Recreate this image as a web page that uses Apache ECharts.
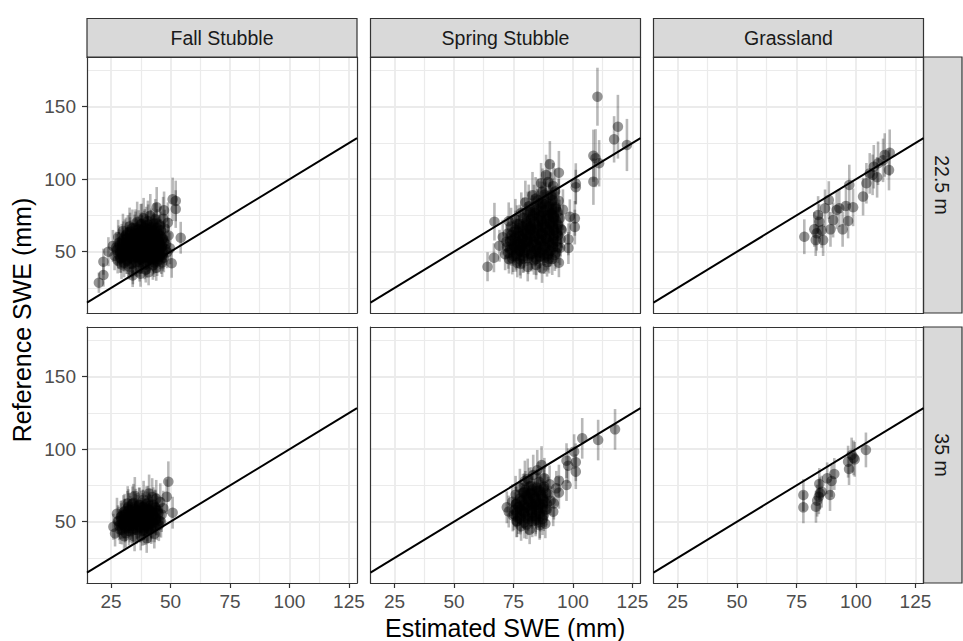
<!DOCTYPE html>
<html>
<head>
<meta charset="utf-8">
<title>Estimated vs Reference SWE</title>
<script src="https://cdn.jsdelivr.net/npm/echarts@6/dist/echarts.min.js"></script>
<style>
  html, body { margin: 0; padding: 0; background: #ffffff; }
  #chart { width: 963px; height: 641px; }
</style>
</head>
<body>
<div id="chart"></div>
<script>
// Facet labels
const landCovers = ['Fall Stubble', 'Spring Stubble', 'Grassland'];
const resolutions = ['22.5 m', '35 m'];

// Axis settings
const xRange = [14.9, 128.4];
const yRange = [7.7, 184.3];
const xTicks = [25, 50, 75, 100, 125];
const xMinorTicks = [37.5, 62.5, 87.5, 112.5];
const yTicks = [50, 100, 150];
const yMinorTicks = [25, 75, 125, 175];

// Observations: [estimated SWE, reference SWE, reference uncertainty (±)]
const fallStubble22 = [
  [19.9, 28.6, 7], [21.8, 33.9, 8], [21.8, 43.1, 9], [23.9, 50.0, 10], [50.9, 86.1, 15], [52.2, 85.0, 14],
  [52.2, 79.4, 13], [54.3, 59.6, 11], [50.5, 42.0, 10], [44.2, 80.6, 14], [47.3, 78.5, 13],
  [26.5, 47.2, 10], [27.1, 52.8, 11], [27.8, 44.0, 9], [28.3, 56.1, 12], [28.9, 49.5, 10], [29.4, 41.2, 10],
  [29.9, 53.7, 11], [30.2, 58.9, 12], [30.6, 46.3, 10], [31.0, 50.8, 11], [31.3, 61.5, 12], [31.7, 43.5, 9],
  [32.0, 55.2, 11], [32.4, 39.8, 9], [32.7, 48.1, 10], [33.0, 63.9, 13], [33.2, 52.4, 11], [33.6, 57.7, 12],
  [33.9, 45.0, 10], [34.2, 36.5, 9], [34.5, 60.3, 12], [34.8, 50.1, 11], [35.0, 54.6, 11], [35.3, 66.2, 13],
  [35.6, 42.7, 10], [35.9, 58.4, 12], [36.2, 47.9, 10], [36.4, 62.8, 12], [36.7, 52.0, 11], [37.0, 38.4, 9],
  [37.2, 56.5, 12], [37.5, 68.9, 14], [37.8, 44.6, 10], [38.0, 60.7, 12], [38.3, 50.2, 11], [38.6, 54.9, 11],
  [38.9, 65.3, 13], [39.1, 41.0, 10], [39.4, 57.8, 12], [39.7, 47.4, 10], [40.0, 62.1, 12], [40.3, 52.6, 11],
  [40.5, 71.2, 14], [40.8, 35.8, 9], [41.1, 55.7, 11], [41.4, 45.5, 10], [41.7, 59.9, 12], [42.0, 66.8, 13],
  [42.3, 50.3, 11], [42.6, 40.6, 10], [42.9, 63.4, 13], [43.2, 54.0, 11], [43.5, 47.1, 10], [43.8, 58.2, 12],
  [44.1, 69.5, 14], [44.4, 43.2, 10], [44.7, 61.6, 12], [45.0, 51.9, 11], [45.3, 56.4, 12], [45.7, 48.0, 10],
  [46.0, 64.7, 13], [46.4, 53.3, 11], [46.8, 59.1, 12], [47.2, 45.8, 10], [47.6, 66.0, 13], [48.1, 55.1, 11],
  [48.6, 49.6, 11], [49.2, 61.2, 12], [36.0, 70.5, 14], [38.7, 73.1, 14], [41.5, 74.8, 15], [43.6, 72.3, 14],
  [39.6, 37.7, 9], [44.0, 38.9, 9], [46.5, 42.5, 10], [30.0, 64.2, 12], [32.8, 67.4, 13], [28.0, 60.0, 12],
  [34.1, 33.6, 8], [37.4, 34.8, 9], [40.2, 43.9, 10], [35.1, 49.0, 10], [42.5, 57.4, 12], [37.9, 63.3, 12],
  [33.5, 48.6, 10], [31.5, 57.0, 11], [45.6, 68.2, 13], [48.9, 70.0, 14], [39.8, 68.0, 13], [36.8, 45.2, 10],
  [41.9, 48.8, 11], [43.0, 44.4, 10], [29.2, 45.5, 10], [25.8, 54.0, 11], [46.9, 72.8, 15], [49.8, 52.3, 11],
  [30.5, 42.3, 10], [33.8, 41.6, 10], [36.9, 42.8, 10], [39.9, 41.9, 10], [43.1, 42.5, 10],
  [28.9, 45.4, 10], [31.6, 44.7, 10], [34.7, 45.8, 11], [37.6, 44.9, 10], [40.8, 45.6, 11], [44.0, 45.2, 10], [46.1, 44.6, 10],
  [28.1, 48.3, 10], [30.9, 47.6, 10], [33.2, 48.9, 11], [35.8, 47.5, 11], [38.4, 48.4, 11], [41.2, 47.7, 11], [43.9, 48.6, 11], [46.7, 47.9, 11],
  [27.4, 51.2, 11], [29.8, 50.6, 11], [32.5, 51.5, 11], [34.9, 50.8, 11], [37.3, 51.6, 11], [39.8, 50.7, 11], [42.4, 51.4, 11], [45.1, 50.9, 11], [47.9, 51.7, 11],
  [28.6, 54.3, 11], [31.1, 53.6, 11], [33.7, 54.4, 11], [36.2, 53.7, 11], [38.8, 54.5, 12], [41.3, 53.8, 11], [43.8, 54.6, 12], [46.4, 53.9, 11],
  [29.5, 57.2, 12], [32.2, 56.6, 12], [34.6, 57.4, 12], [37.1, 56.8, 12], [39.7, 57.5, 12], [42.2, 56.7, 12], [44.9, 57.3, 12], [47.3, 56.6, 12],
  [30.8, 60.3, 12], [33.3, 59.6, 12], [35.7, 60.5, 12], [38.3, 59.8, 12], [40.9, 60.4, 12], [43.4, 59.7, 12], [45.8, 60.6, 12],
  [32.1, 63.2, 12], [34.9, 62.6, 13], [37.4, 63.5, 13], [39.9, 62.7, 13], [42.6, 63.3, 13], [45.2, 62.5, 13],
  [34.0, 66.1, 13], [36.6, 65.6, 13], [39.2, 66.4, 13], [41.8, 65.7, 13], [44.4, 66.3, 13],
  [37.9, 69.2, 14], [40.6, 68.6, 14], [43.1, 69.4, 14],
  [30.2, 46.7, 10], [32.9, 46.2, 10], [35.3, 46.9, 10], [38.0, 46.3, 10], [40.6, 46.8, 11], [43.2, 46.1, 11], [45.4, 46.6, 11],
  [29.0, 49.7, 11], [31.7, 49.2, 11], [34.3, 49.8, 11], [36.6, 49.3, 11], [39.1, 49.9, 11], [41.8, 49.4, 11], [44.5, 49.8, 11], [47.0, 49.2, 11],
  [28.2, 52.7, 11], [30.6, 52.2, 11], [33.1, 52.9, 11], [35.6, 52.3, 11], [38.1, 52.8, 11], [40.7, 52.2, 11], [43.1, 52.9, 11], [45.7, 52.4, 11],
  [29.9, 55.7, 11], [32.4, 55.2, 12], [35.0, 55.8, 12], [37.6, 55.3, 12], [40.1, 55.9, 12], [42.7, 55.2, 12], [45.3, 55.6, 12],
  [31.5, 58.7, 12], [34.0, 58.2, 12], [36.6, 58.8, 12], [39.1, 58.3, 12], [41.7, 58.9, 12], [44.2, 58.2, 12], [46.6, 58.6, 12],
  [33.0, 61.7, 12], [35.6, 61.2, 12], [38.2, 61.8, 13], [40.6, 61.3, 13], [43.3, 61.9, 13],
  [35.3, 64.7, 13], [37.9, 64.2, 13], [40.5, 64.8, 13], [43.1, 64.3, 13]
];

const springStubble22 = [
  [110.3, 156.9, 20], [118.9, 136.2, 22], [117.3, 127.5, 16], [122.7, 123.6, 18], [108.6, 116.2, 18],
  [109.5, 114.5, 20], [111.0, 111.0, 16], [108.6, 98.3, 16], [101.2, 97.0, 14], [101.2, 94.5, 12],
  [100.8, 73.0, 12], [100.8, 67.0, 12], [98.1, 58.5, 11], [98.1, 52.5, 11], [94.1, 42.4, 10],
  [64.1, 39.6, 10], [66.8, 45.8, 10], [67.0, 70.7, 13], [69.1, 54.1, 11], [90.3, 110.3, 16],
  [88.7, 102.9, 14], [94.1, 104.5, 15], [86.6, 97.2, 14], [98.7, 74.1, 12],
  [71.5, 48.2, 11], [72.0, 56.8, 12], [72.6, 62.5, 12], [73.1, 44.9, 10], [73.5, 51.7, 11], [74.0, 67.3, 13],
  [74.4, 58.1, 12], [74.9, 47.0, 11], [75.3, 53.9, 11], [75.8, 72.4, 14], [76.2, 61.0, 12], [76.6, 42.3, 10],
  [77.0, 55.5, 12], [77.4, 66.2, 13], [77.9, 49.8, 11], [78.3, 76.9, 14], [78.7, 59.4, 12], [79.1, 45.3, 10],
  [79.5, 63.8, 13], [79.9, 52.6, 11], [80.3, 70.1, 13], [80.7, 57.2, 12], [81.0, 39.5, 10], [81.4, 81.3, 15],
  [81.8, 61.9, 12], [82.1, 48.4, 11], [82.5, 67.8, 13], [82.9, 55.0, 12], [83.2, 74.6, 14], [83.6, 44.1, 10],
  [84.0, 60.3, 12], [84.3, 86.5, 15], [84.7, 51.2, 11], [85.0, 65.4, 13], [85.4, 78.2, 14], [85.8, 57.9, 12],
  [86.1, 46.6, 11], [86.5, 71.7, 13], [86.9, 62.8, 12], [87.2, 91.4, 16], [87.6, 53.5, 11], [88.0, 68.9, 13],
  [88.3, 82.7, 15], [88.7, 59.1, 12], [89.1, 42.8, 10], [89.4, 75.5, 14], [89.8, 64.6, 13], [90.2, 50.4, 11],
  [90.5, 88.9, 16], [90.9, 56.3, 12], [91.3, 70.8, 13], [91.7, 95.2, 16], [92.0, 61.4, 12], [92.4, 47.7, 11],
  [92.8, 79.6, 14], [93.2, 66.0, 13], [93.6, 53.0, 11], [94.0, 85.1, 15], [94.4, 72.9, 13], [94.8, 58.7, 12],
  [95.3, 64.9, 12], [80.0, 84.0, 15], [82.0, 77.5, 14], [76.5, 69.0, 13], [78.0, 41.5, 10], [84.5, 40.8, 10],
  [87.0, 38.5, 10], [90.0, 45.0, 10], [86.0, 83.5, 15], [83.0, 89.0, 16], [75.0, 63.5, 12], [73.0, 71.0, 13],
  [88.0, 48.0, 11], [91.0, 76.0, 14], [79.0, 55.0, 11], [81.5, 66.0, 13], [85.5, 49.5, 11], [77.5, 51.0, 11],
  [92.5, 91.5, 16], [89.5, 98.0, 16], [95.8, 79.0, 14], [70.5, 60.0, 12],
  [74.5, 45.3, 11], [77.8, 44.6, 11], [81.2, 45.5, 11], [84.6, 44.8, 11], [88.0, 45.6, 11], [91.3, 44.9, 11],
  [72.8, 49.2, 11], [76.1, 48.7, 11], [79.5, 49.4, 11], [82.8, 48.8, 11], [86.2, 49.5, 11], [89.6, 48.6, 11], [92.9, 49.3, 11],
  [72.3, 53.4, 12], [75.4, 52.6, 12], [78.6, 53.3, 12], [81.9, 52.7, 12], [85.1, 53.5, 12], [88.4, 52.8, 12], [91.7, 53.4, 12], [94.6, 52.7, 12],
  [73.6, 57.3, 12], [76.8, 56.6, 12], [80.0, 57.4, 12], [83.3, 56.7, 12], [86.6, 57.5, 12], [89.8, 56.8, 12], [93.1, 57.2, 12],
  [74.2, 61.4, 12], [77.5, 60.7, 12], [80.7, 61.3, 13], [84.0, 60.6, 13], [87.2, 61.5, 13], [90.5, 60.8, 13], [93.8, 61.2, 13],
  [75.9, 65.3, 13], [79.1, 64.6, 13], [82.4, 65.4, 13], [85.6, 64.7, 13], [88.9, 65.5, 13], [92.1, 64.8, 13], [95.0, 65.6, 13],
  [77.6, 69.4, 13], [80.8, 68.7, 13], [84.1, 69.3, 13], [87.3, 68.6, 13], [90.6, 69.5, 13], [93.7, 68.8, 13],
  [79.2, 73.3, 14], [82.5, 72.6, 14], [85.7, 73.4, 14], [89.0, 72.7, 14], [92.2, 73.5, 14],
  [81.0, 77.4, 14], [84.2, 76.7, 14], [87.5, 77.3, 14], [90.7, 76.6, 14], [93.5, 77.5, 14],
  [83.6, 81.2, 15], [86.8, 80.6, 15], [90.1, 81.4, 15], [92.8, 80.7, 15],
  [85.3, 85.4, 15], [88.6, 84.7, 15], [91.5, 85.5, 15],
  [88.0, 89.3, 16], [90.9, 88.6, 16],
  [76.0, 47.2, 11], [79.3, 46.8, 11], [82.6, 47.4, 11], [86.0, 46.9, 11], [89.3, 47.3, 11],
  [74.2, 51.3, 11], [77.4, 50.8, 11], [80.8, 51.2, 11], [84.1, 50.7, 11], [87.4, 51.4, 11], [90.8, 50.9, 11],
  [74.8, 55.2, 12], [78.0, 54.7, 12], [81.3, 55.3, 12], [84.6, 54.8, 12], [87.9, 55.4, 12], [91.2, 54.9, 12],
  [75.6, 59.3, 12], [78.9, 58.8, 12], [82.1, 59.2, 12], [85.4, 58.7, 12], [88.7, 59.4, 12], [92.0, 58.9, 12],
  [76.9, 63.2, 12], [80.1, 62.7, 13], [83.4, 63.3, 13], [86.7, 62.8, 13], [90.0, 63.4, 13], [93.2, 62.9, 13],
  [78.6, 67.3, 13], [81.8, 66.8, 13], [85.1, 67.2, 13], [88.3, 66.7, 13], [91.5, 67.4, 13],
  [80.4, 71.2, 13], [83.6, 70.7, 13], [86.9, 71.3, 14], [90.1, 70.8, 14], [92.9, 71.4, 14],
  [82.9, 75.3, 14], [86.1, 74.8, 14], [89.4, 75.2, 14], [92.0, 74.7, 14],
  [85.0, 79.2, 14], [88.2, 78.7, 15], [91.3, 79.3, 15],
  [87.2, 83.3, 15], [90.2, 82.8, 15]
];

const grassland22 = [
  [78.3, 60.3, 12], [82.5, 65.4, 12], [83.5, 62.7, 12], [83.1, 58.0, 11], [84.1, 75.3, 13], [84.6, 70.7, 12],
  [86.2, 58.0, 11], [85.6, 64.7, 12], [87.0, 79.9, 13], [88.6, 85.6, 13], [89.3, 65.4, 12], [90.4, 71.8, 12],
  [91.9, 78.8, 13], [93.0, 80.0, 13], [94.4, 65.4, 12], [95.8, 81.5, 13], [96.7, 71.2, 12], [97.2, 96.0, 14],
  [98.8, 80.6, 13], [103.0, 88.0, 13], [104.4, 97.2, 14], [105.8, 104.0, 14], [107.5, 108.6, 15],
  [108.9, 101.3, 14], [107.0, 103.0, 14], [109.3, 111.0, 15], [112.1, 116.7, 15], [114.2, 118.3, 16],
  [113.9, 106.3, 14], [111.4, 113.0, 15]
];

const fallStubble35 = [
  [26.0, 46.5, 9], [26.7, 41.9, 9], [49.1, 77.6, 14], [48.4, 67.2, 12], [50.9, 56.2, 11],
  [28.2, 50.3, 10], [28.8, 44.6, 10], [29.5, 53.8, 11], [30.1, 47.9, 10], [30.7, 57.2, 12], [31.2, 42.1, 10],
  [31.8, 51.0, 11], [32.3, 60.4, 12], [32.9, 45.7, 10], [33.4, 54.6, 11], [33.9, 49.3, 11], [34.4, 63.1, 13],
  [34.9, 39.6, 10], [35.4, 52.2, 11], [35.9, 57.8, 12], [36.3, 46.0, 10], [36.8, 61.5, 12], [37.3, 50.6, 11],
  [37.8, 55.3, 11], [38.2, 43.4, 10], [38.7, 65.2, 13], [39.1, 48.7, 11], [39.6, 58.9, 12], [40.0, 53.1, 11],
  [40.5, 62.7, 12], [40.9, 45.2, 10], [41.4, 56.6, 12], [41.8, 50.1, 11], [42.3, 67.0, 13], [42.7, 54.3, 11],
  [43.2, 41.5, 10], [43.6, 60.1, 12], [44.1, 51.8, 11], [44.6, 57.4, 12], [45.1, 47.6, 11], [45.7, 63.5, 13],
  [46.3, 54.9, 12], [47.0, 59.3, 12], [35.0, 67.8, 13], [37.5, 40.2, 10], [33.0, 58.0, 12], [39.5, 44.0, 10],
  [31.0, 55.0, 11], [29.0, 48.0, 10], [42.0, 46.8, 11], [36.0, 53.5, 11], [38.5, 59.7, 12], [41.0, 69.5, 13],
  [44.0, 65.8, 13], [34.0, 44.0, 10], [30.5, 40.0, 10], [27.5, 55.5, 11], [46.0, 50.0, 11], [40.0, 38.5, 10],
  [32.0, 62.5, 12],
  [29.6, 44.3, 10], [32.6, 43.6, 10], [35.7, 44.5, 10], [38.8, 43.8, 10], [41.9, 44.6, 10],
  [28.4, 47.2, 10], [31.3, 46.6, 10], [34.3, 47.4, 11], [37.2, 46.7, 11], [40.2, 47.5, 11], [43.3, 46.8, 11],
  [27.9, 50.3, 11], [30.7, 49.6, 11], [33.6, 50.4, 11], [36.5, 49.7, 11], [39.4, 50.5, 11], [42.4, 49.8, 11], [45.3, 50.6, 11],
  [29.1, 53.2, 11], [32.0, 52.6, 11], [34.9, 53.4, 11], [37.9, 52.7, 11], [40.8, 53.5, 11], [43.8, 52.8, 11],
  [30.2, 56.3, 12], [33.1, 55.6, 12], [36.1, 56.4, 12], [39.0, 55.7, 12], [41.9, 56.5, 12], [44.9, 55.8, 12],
  [31.9, 59.2, 12], [34.8, 58.6, 12], [37.7, 59.4, 12], [40.7, 58.7, 12], [43.6, 59.5, 12],
  [34.0, 62.3, 12], [37.0, 61.6, 12], [39.9, 62.4, 12], [42.8, 61.7, 12],
  [31.0, 45.7, 10], [34.1, 45.2, 10], [37.3, 45.8, 10], [40.4, 45.3, 10],
  [29.8, 48.7, 10], [32.8, 48.2, 11], [35.8, 48.8, 11], [38.7, 48.3, 11], [41.8, 48.9, 11], [44.2, 48.4, 11],
  [29.3, 51.7, 11], [32.2, 51.2, 11], [35.1, 51.8, 11], [38.0, 51.3, 11], [40.9, 51.9, 11], [43.9, 51.4, 11],
  [30.6, 54.7, 11], [33.5, 54.2, 11], [36.4, 54.8, 11], [39.4, 54.3, 12], [42.3, 54.9, 12],
  [32.4, 57.7, 12], [35.3, 57.2, 12], [38.3, 57.8, 12], [41.2, 57.3, 12], [44.0, 57.9, 12],
  [35.4, 60.7, 12], [38.4, 60.2, 12], [41.3, 60.8, 12]
];

const springStubble35 = [
  [117.7, 113.7, 14], [110.6, 106.3, 14], [103.9, 107.5, 14], [100.5, 98.3, 12], [97.3, 92.1, 12],
  [98.0, 88.6, 12], [101.2, 91.0, 13], [101.2, 84.5, 12], [97.3, 75.3, 11], [94.1, 78.3, 11],
  [94.1, 70.0, 11], [91.7, 56.9, 10], [90.6, 64.5, 10], [86.8, 89.1, 13], [72.2, 59.9, 11], [73.0, 57.0, 11],
  [74.5, 63.8, 12], [75.2, 55.1, 11], [75.9, 68.6, 13], [76.5, 50.4, 11], [77.1, 60.2, 12], [77.7, 73.5, 13],
  [78.2, 46.8, 10], [78.8, 64.9, 12], [79.3, 56.6, 11], [79.8, 78.1, 14], [80.3, 52.7, 11], [80.8, 68.3, 12],
  [81.3, 61.4, 12], [81.8, 44.5, 10], [82.3, 74.6, 13], [82.8, 57.9, 11], [83.3, 82.2, 14], [83.8, 65.5, 12],
  [84.3, 50.9, 11], [84.8, 71.1, 13], [85.3, 59.7, 12], [85.8, 77.4, 14], [86.3, 54.2, 11], [86.8, 66.8, 12],
  [87.3, 62.0, 12], [87.8, 72.9, 13], [88.4, 48.6, 10], [89.0, 58.4, 11], [89.6, 69.0, 12], [90.2, 75.8, 13],
  [80.0, 72.0, 13], [82.0, 69.5, 12], [78.0, 58.5, 11], [84.0, 62.5, 12], [86.0, 47.5, 10], [76.0, 62.0, 12],
  [88.0, 80.0, 14], [92.0, 62.5, 11], [80.5, 48.0, 10], [83.0, 53.0, 11], [85.0, 85.5, 14], [79.0, 70.0, 13],
  [77.0, 52.5, 11], [93.0, 73.0, 12], [81.0, 79.5, 14],
  [76.3, 50.2, 11], [79.6, 49.5, 11], [82.9, 50.3, 11], [86.1, 49.6, 11],
  [74.7, 54.3, 11], [77.9, 53.6, 11], [81.2, 54.4, 11], [84.4, 53.7, 11], [87.7, 54.5, 11],
  [75.5, 58.2, 12], [78.7, 57.5, 12], [82.0, 58.3, 12], [85.2, 57.6, 12], [88.5, 58.4, 12],
  [76.2, 62.3, 12], [79.4, 61.6, 12], [82.7, 62.4, 12], [85.9, 61.7, 12], [89.1, 62.5, 12],
  [77.8, 66.2, 12], [81.0, 65.5, 12], [84.3, 66.3, 12], [87.5, 65.6, 12],
  [79.5, 70.3, 13], [82.7, 69.6, 13], [85.9, 70.4, 13], [88.8, 69.7, 13],
  [81.6, 74.2, 13], [84.8, 73.5, 13], [87.9, 74.3, 13],
  [77.9, 52.2, 11], [81.1, 51.7, 11], [84.4, 52.3, 11], [87.2, 51.8, 11],
  [76.3, 56.3, 11], [79.5, 55.8, 11], [82.8, 56.2, 11], [86.0, 55.7, 11],
  [77.1, 60.2, 12], [80.3, 59.7, 12], [83.5, 60.3, 12], [86.8, 59.8, 12],
  [78.4, 64.3, 12], [81.6, 63.8, 12], [84.8, 64.2, 12], [88.0, 63.7, 12],
  [80.3, 68.2, 12], [83.5, 67.7, 12], [86.7, 68.3, 13],
  [82.9, 72.2, 13], [85.8, 71.7, 13]
];

const grassland35 = [
  [77.9, 68.4, 11], [77.9, 59.9, 11], [83.2, 60.3, 11], [83.7, 64.5, 11], [84.4, 67.2, 12], [84.9, 69.6, 11],
  [84.6, 76.0, 11], [85.6, 70.7, 11], [87.9, 79.9, 11], [89.1, 68.4, 11], [89.8, 78.1, 11], [90.9, 82.9, 11],
  [96.7, 91.4, 11], [97.1, 86.3, 11], [98.2, 96.0, 12], [99.5, 93.0, 12], [99.0, 94.0, 12], [104.2, 99.5, 12]
];

const panelData = [
  [fallStubble22, springStubble22, grassland22],
  [fallStubble35, springStubble35, grassland35]
];

// Layout of the facet grid (pixels)
const colLeft = [87, 370.5, 653.5];
const panelW = 270;
const rowTop = [57, 327];
const panelH = 256;
const stripSize = 38.5;

const FONT = '"Liberation Sans", Arial, Helvetica, sans-serif';
const BORDER = '#333333';
const GRID = '#EBEBEB';
const TEXT_AXIS = '#4D4D4D';

const grids = [], xAxes = [], yAxes = [], series = [], graphics = [];

resolutions.forEach((res, r) => {
  landCovers.forEach((lc, c) => {
    const g = grids.length;
    grids.push({ left: colLeft[c], top: rowTop[r], width: panelW, height: panelH, containLabel: false });
    const showX = r === resolutions.length - 1;
    const showY = c === 0;

    // main x axis (bottom): major ticks, labels, major grid lines
    xAxes.push({
      type: 'value', gridIndex: g, position: 'bottom', min: xRange[0], max: xRange[1],
      axisLine: { show: true, onZero: false, lineStyle: { color: BORDER, width: 1.2 } },
      axisTick: { show: showX, customValues: xTicks, length: 5, lineStyle: { color: BORDER, width: 1.2 } },
      axisLabel: { show: showX, customValues: xTicks, color: TEXT_AXIS, fontSize: 19, fontFamily: FONT, margin: 9 },
      splitLine: { show: true, lineStyle: { color: GRID, width: 1.8 } }
    });
    // second x axis (top): panel border and minor grid lines
    xAxes.push({
      type: 'value', gridIndex: g, position: 'top', min: xRange[0], max: xRange[1],
      axisLine: { show: true, onZero: false, lineStyle: { color: BORDER, width: 1.2 } },
      axisTick: { show: false, customValues: xMinorTicks },
      axisLabel: { show: false },
      splitLine: { show: true, lineStyle: { color: GRID, width: 1.2 } }
    });
    yAxes.push({
      type: 'value', gridIndex: g, position: 'left', min: yRange[0], max: yRange[1],
      axisLine: { show: true, onZero: false, lineStyle: { color: BORDER, width: 1.2 } },
      axisTick: { show: showY, customValues: yTicks, length: 5, lineStyle: { color: BORDER, width: 1.2 } },
      axisLabel: { show: showY, customValues: yTicks, color: TEXT_AXIS, fontSize: 19, fontFamily: FONT, margin: 11 },
      splitLine: { show: true, lineStyle: { color: GRID, width: 1.8 } }
    });
    yAxes.push({
      type: 'value', gridIndex: g, position: 'right', min: yRange[0], max: yRange[1],
      axisLine: { show: true, onZero: false, lineStyle: { color: BORDER, width: 1.2 } },
      axisTick: { show: false, customValues: yMinorTicks },
      axisLabel: { show: false },
      splitLine: { show: true, lineStyle: { color: GRID, width: 1.2 } }
    });

    const obs = panelData[r][c];
    const xi = 2 * g, yi = 2 * g;

    // vertical uncertainty bars
    series.push({
      type: 'custom', xAxisIndex: xi, yAxisIndex: yi, z: 2, silent: true,
      dimensions: ['est', 'ref', 'err'], encode: { x: 0, y: 1 },
      data: obs,
      renderItem: (params, api) => {
        const x = api.value(0), y = api.value(1), e = api.value(2);
        const lo = api.coord([x, y - e]);
        const hi = api.coord([x, y + e]);
        return {
          type: 'line',
          shape: { x1: lo[0], y1: lo[1], x2: hi[0], y2: hi[1] },
          style: { stroke: 'rgba(0,0,0,0.28)', lineWidth: 2.6 }
        };
      }
    });
    // points
    series.push({
      type: 'scatter', xAxisIndex: xi, yAxisIndex: yi, z: 3, silent: true,
      symbol: 'circle', symbolSize: 10.5,
      itemStyle: { color: 'rgba(0,0,0,0.52)' },
      data: obs.map(d => [d[0], d[1]])
    });
    // 1:1 reference line
    series.push({
      type: 'line', xAxisIndex: xi, yAxisIndex: yi, z: 4, silent: true,
      showSymbol: false, symbol: 'none', clip: true,
      lineStyle: { color: '#000000', width: 2 },
      data: [[xRange[0], xRange[0]], [xRange[1], xRange[1]]]
    });
  });
});

// column strips (top)
landCovers.forEach((lc, c) => {
  graphics.push({
    type: 'rect', silent: true,
    shape: { x: colLeft[c], y: rowTop[0] - stripSize, width: panelW, height: stripSize },
    style: { fill: '#D9D9D9', stroke: BORDER, lineWidth: 1.2 }
  });
  graphics.push({
    type: 'text', silent: true,
    x: colLeft[c] + panelW / 2, y: rowTop[0] - stripSize / 2 + 0.5,
    style: { text: lc, fill: '#1A1A1A', fontSize: 19.5, fontFamily: FONT, align: 'center', verticalAlign: 'middle' }
  });
});
// row strips (right)
resolutions.forEach((res, r) => {
  const sx = colLeft[2] + panelW;
  graphics.push({
    type: 'rect', silent: true,
    shape: { x: sx, y: rowTop[r], width: stripSize, height: panelH },
    style: { fill: '#D9D9D9', stroke: BORDER, lineWidth: 1.2 }
  });
  graphics.push({
    type: 'text', silent: true,
    x: sx + stripSize / 2 - 0.5, y: rowTop[r] + panelH / 2,
    rotation: -Math.PI / 2,
    style: { text: res, fill: '#1A1A1A', fontSize: 19.5, fontFamily: FONT, align: 'center', verticalAlign: 'middle' }
  });
});
// axis titles
graphics.push({
  type: 'text', silent: true,
  x: (colLeft[0] + colLeft[2] + panelW) / 2, y: 628,
  style: { text: 'Estimated SWE (mm)', fill: '#000000', fontSize: 25, fontFamily: FONT, align: 'center', verticalAlign: 'middle' }
});
graphics.push({
  type: 'text', silent: true,
  x: 22, y: (rowTop[0] + rowTop[1] + panelH) / 2,
  rotation: Math.PI / 2,
  style: { text: 'Reference SWE (mm)', fill: '#000000', fontSize: 25, fontFamily: FONT, align: 'center', verticalAlign: 'middle' }
});

const chart = echarts.init(document.getElementById('chart'), null, { renderer: 'svg' });
chart.setOption({
  animation: false,
  backgroundColor: '#ffffff',
  grid: grids,
  xAxis: xAxes,
  yAxis: yAxes,
  series: series,
  graphic: { elements: graphics }
});
</script>
</body>
</html>
